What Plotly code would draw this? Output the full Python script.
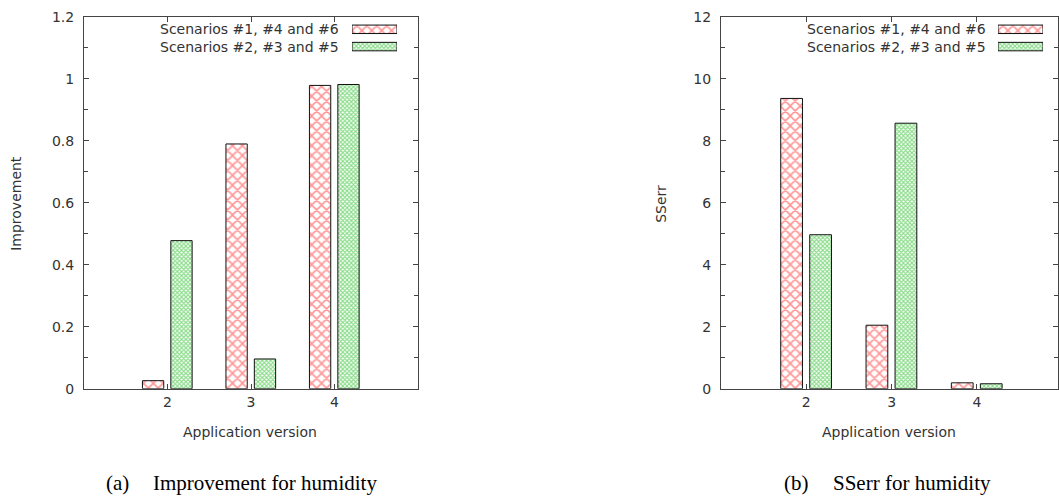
import plotly.graph_objects as go

versions = [2, 3, 4]
series_names = ["Scenarios #1, #4 and #6", "Scenarios #2, #3 and #5"]
improvement_a = [0.026, 0.79, 0.979]
improvement_b = [0.478, 0.096, 0.982]
sserr_a = [9.37, 2.05, 0.19]
sserr_b = [4.97, 8.57, 0.16]
y_ticks_left = [0, 0.2, 0.4, 0.6, 0.8, 1, 1.2]
y_labels_left = ["0", "0.2", "0.4", "0.6", "0.8", "1", "1.2"]
y_ticks_right = [0, 2, 4, 6, 8, 10, 12]
captions = [("(a)", "Improvement for humidity"), ("(b)", "SSerr for humidity")]

W, H = 1059, 503
def px(x): return x / W
def py(y): return 1 - ((y - 6.0) / 0.974) / H

RED = "#ff2a2a"
GREEN = "#12b812"
patterns = [
    dict(shape="x", size=7, solidity=0.4, fgcolor=RED, bgcolor="white"),
    dict(shape="x", size=3, solidity=0.6, fgcolor=GREEN, bgcolor="white"),
]
offsets = [-0.30, 0.04]
BW = 0.255
AX = "#444444"
FONT = "DejaVu Sans"
FS = 14

fig = go.Figure()
data_sets = [(improvement_a, improvement_b), (sserr_a, sserr_b)]
for p, (sa, sb) in enumerate(data_sets):
    xa = "x" if p == 0 else "x2"
    ya = "y" if p == 0 else "y2"
    for i, vals in enumerate((sa, sb)):
        fig.add_trace(go.Bar(
            x=versions, y=vals, name=series_names[i], xaxis=xa, yaxis=ya,
            width=BW, offset=offsets[i],
            marker=dict(color="white", pattern=patterns[i],
                        line=dict(color="#111111", width=1)),
            showlegend=False, hoverinfo="x+y"))

legend_geo = [(352, 397, 341), (998, 1043, 988)]
for p, (x0, x1, tx) in enumerate(legend_geo):
    xa = "x3" if p == 0 else "x4"
    ya = "y3" if p == 0 else "y4"
    for i in range(2):
        fig.add_trace(go.Bar(
            y=[i], x=[1], orientation="h", xaxis=xa, yaxis=ya, width=0.49,
            marker=dict(color="white", pattern=patterns[i],
                        line=dict(color="#111111", width=1)),
            showlegend=False, hoverinfo="skip"))
        fig.add_annotation(text=series_names[i], xref="paper", yref="paper",
                           x=px(tx), y=py(27.5 + 17.3 * i), xanchor="right",
                           yanchor="middle", showarrow=False,
                           font=dict(family=FONT, size=FS, color="#333333"))

ydom = [py(389), py(15)]
common_x = dict(showline=True, linecolor=AX, linewidth=1, mirror="allticks",
                ticks="inside", ticklen=5, tickcolor=AX, tickvals=versions,
                ticktext=[str(v) for v in versions], showgrid=False, zeroline=False,
                tickfont=dict(family=FONT, size=FS, color="#333333"))
common_y = dict(showline=True, linecolor=AX, linewidth=1, mirror="allticks",
                ticks="inside", ticklen=5, tickcolor=AX, showgrid=False,
                zeroline=False, ticklabelstandoff=6, ticklabeloverflow="allow",
                tickfont=dict(family=FONT, size=FS, color="#333333"))

fig.update_layout(
    width=W, height=H, margin=dict(l=0, r=0, t=0, b=0), autosize=False,
    plot_bgcolor="white", paper_bgcolor="white", showlegend=False,
    xaxis=dict(domain=[px(84), px(418)], range=[1, 5], anchor="y", **common_x),
    yaxis=dict(domain=ydom, range=[0, 1.2], anchor="x", tickvals=y_ticks_left,
               ticktext=y_labels_left,
               minor=dict(ticks="inside", ticklen=4, tickcolor=AX,
                          tickvals=[0.1, 0.3, 0.5, 0.7, 0.9, 1.1]), **common_y),
    xaxis2=dict(domain=[px(721), px(1058)], range=[1, 4.95], anchor="y2", **common_x),
    yaxis2=dict(domain=ydom, range=[0, 12], anchor="x2", tickvals=y_ticks_right,
                ticktext=[str(v) for v in y_ticks_right],
                minor=dict(ticks="inside", ticklen=4, tickcolor=AX,
                           tickvals=[1, 3, 5, 7, 9, 11]), **common_y),
    xaxis3=dict(domain=[px(352), px(397)], range=[0, 1], anchor="y3", visible=False, fixedrange=True),
    yaxis3=dict(domain=[py(53.5), py(18.75)], range=[1.5, -0.5], anchor="x3", visible=False, fixedrange=True),
    xaxis4=dict(domain=[px(998), px(1043)], range=[0, 1], anchor="y4", visible=False, fixedrange=True),
    yaxis4=dict(domain=[py(53.5), py(18.75)], range=[1.5, -0.5], anchor="x4", visible=False, fixedrange=True),
    barmode="overlay",
)

for cx, ytitle, tx in [(250, "Improvement", 16), (889, "SSerr", 661)]:
    fig.add_annotation(text="Application version", xref="paper", yref="paper",
                       x=px(cx), y=py(433), xanchor="center", yanchor="middle",
                       showarrow=False, font=dict(family=FONT, size=FS, color="#333333"))
    fig.add_annotation(text=ytitle, xref="paper", yref="paper", textangle=-90,
                       x=px(tx), y=py(203), xanchor="center", yanchor="middle",
                       showarrow=False, font=dict(family=FONT, size=FS, color="#333333"))

for (lab, txt), lx, tx in zip(captions, [104, 782], [151, 831]):
    fig.add_annotation(text=lab, xref="paper", yref="paper", x=px(lx), y=py(484),
                       xanchor="left", yanchor="middle", showarrow=False,
                       font=dict(family="Liberation Serif", size=21, color="black"))
    fig.add_annotation(text=txt, xref="paper", yref="paper", x=px(tx), y=py(484),
                       xanchor="left", yanchor="middle", showarrow=False,
                       font=dict(family="Liberation Serif", size=21, color="black"))

post = (
    "document.documentElement.style.margin='0';"
    "document.documentElement.style.overflow='hidden';"
    "document.body.style.margin='0';document.body.style.overflow='hidden';"
    "var gd=document.getElementById('{plot_id}');"
    "gd.style.position='fixed';gd.style.top='0px';gd.style.left='0px';"
)
fig.write_html(
    "out.html",
    config={"responsive": False, "displayModeBar": False},
    post_script=post,
)
